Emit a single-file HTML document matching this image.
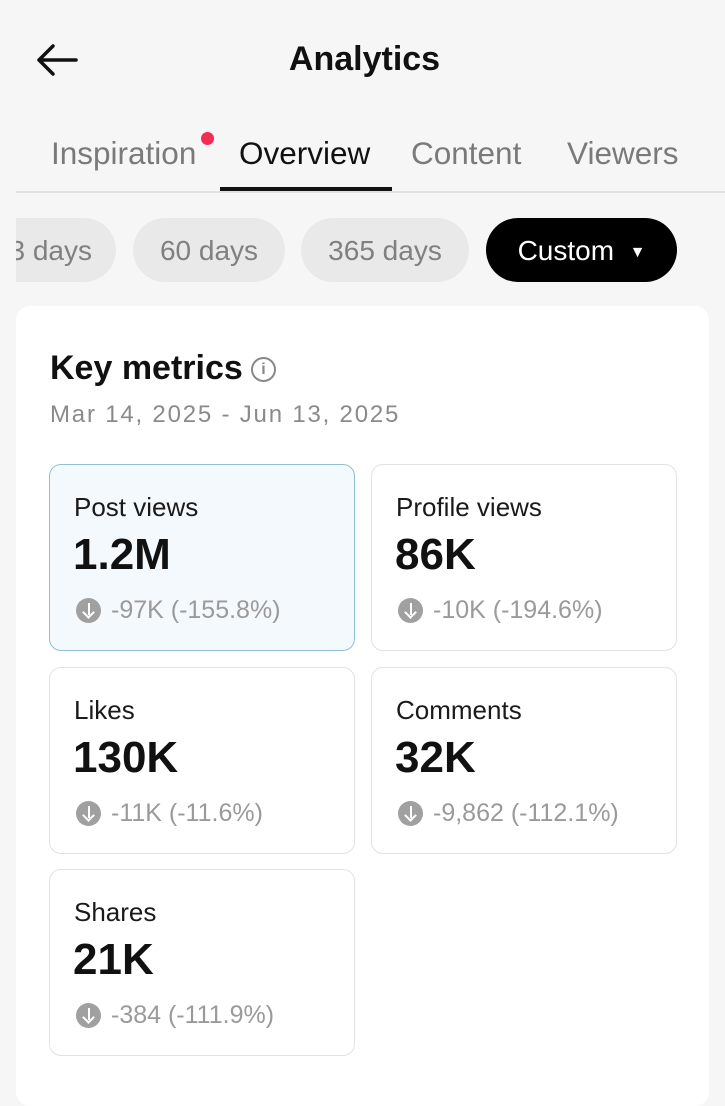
<!DOCTYPE html>
<html><head><meta charset="utf-8"><style>
*{margin:0;padding:0;box-sizing:border-box}
html,body{width:725px;height:1080px}
body{background:#f6f6f6;font-family:"Liberation Sans",sans-serif;position:relative;overflow:hidden;color:#111}
.a{position:absolute;white-space:nowrap}
.tab{font-size:31.5px;color:#7a7a7a;top:135px}
.pill{position:absolute;top:218px;height:64px;border-radius:32px;background:#e9e9e9;color:#808080;font-size:28px;line-height:66px;text-align:center}
.card{position:absolute;width:306px;height:187px;border:1.5px solid #e2e2e2;border-radius:12px;background:#fff}
.card .l{position:absolute;left:24px;top:27px;font-size:26px;color:#1a1a1a}
.card .v{position:absolute;left:23px;top:65px;font-size:44px;font-weight:bold;color:#111}
.card .c{position:absolute;left:26px;top:131px;font-size:25px;color:#9a9a9a;display:flex;align-items:center}
.ic{width:25px;height:25px;border-radius:50%;background:#a0a0a0;margin-right:10px;position:relative}
.ic:before{content:"";position:absolute;left:11.5px;top:5px;width:2px;height:12px;background:#fff}
.ic:after{content:"";position:absolute;left:8px;top:10px;width:7px;height:7px;border-right:2px solid #fff;border-bottom:2px solid #fff;transform:rotate(45deg)}
</style></head><body>
<svg class="a" style="left:34px;top:42px" width="46" height="36" viewBox="0 0 46 36"><path d="M42 18H5M19 4L5 18l14 14" fill="none" stroke="#111" stroke-width="3.5" stroke-linecap="round" stroke-linejoin="round"/></svg>
<div class="a" style="left:0;width:729px;top:40px;text-align:center;font-size:34px;font-weight:bold">Analytics</div>
<div class="a tab" style="left:51px">Inspiration</div>
<div class="a" style="left:201px;top:132px;width:13px;height:13px;border-radius:50%;background:#f42c54"></div>
<div class="a tab" style="left:239px;color:#111">Overview</div>
<div class="a tab" style="left:411px">Content</div>
<div class="a tab" style="left:567px">Viewers</div>
<div class="a" style="left:16px;top:191px;width:709px;height:2px;background:#e2e2e2"></div>
<div class="a" style="left:220px;top:187px;width:172px;height:4px;background:#111"></div>
<div class="pill" style="left:-20px;width:136px;text-align:right;padding-right:24px">3 days</div>
<div class="a" style="left:0;top:210px;width:16px;height:80px;background:#f6f6f6"></div>
<div class="pill" style="left:133px;width:152px">60 days</div>
<div class="pill" style="left:301px;width:168px">365 days</div>
<div class="pill" style="left:486px;width:191px;background:#000;color:#fff">Custom &nbsp;<span style="font-size:16px;vertical-align:3px">▼</span></div>
<div class="a" style="left:16px;top:306px;width:693px;height:800px;background:#fff;border-radius:14px"></div>
<div class="a" style="left:50px;top:349px;font-size:34px;font-weight:bold">Key metrics</div>
<div class="a" style="left:251px;top:357px;width:25px;height:25px;border:2px solid #888;border-radius:50%;font-size:16px;color:#888;text-align:center;line-height:21px;font-weight:bold">i</div>
<div class="a" style="left:50px;top:401px;font-size:24px;color:#8a8a8a;letter-spacing:1.8px">Mar 14, 2025 - Jun 13, 2025</div>
<div class="card" style="left:49px;top:464px;background:#f4f9fd;border-color:#90bfd0"><div class="l">Post views</div><div class="v">1.2M</div><div class="c"><span class="ic"></span>-97K (-155.8%)</div></div>
<div class="card" style="left:371px;top:464px"><div class="l">Profile views</div><div class="v">86K</div><div class="c"><span class="ic"></span>-10K (-194.6%)</div></div>
<div class="card" style="left:49px;top:667px"><div class="l">Likes</div><div class="v">130K</div><div class="c"><span class="ic"></span>-11K (-11.6%)</div></div>
<div class="card" style="left:371px;top:667px"><div class="l">Comments</div><div class="v">32K</div><div class="c"><span class="ic"></span>-9,862 (-112.1%)</div></div>
<div class="card" style="left:49px;top:869px"><div class="l">Shares</div><div class="v">21K</div><div class="c"><span class="ic"></span>-384 (-111.9%)</div></div>
</body></html>
